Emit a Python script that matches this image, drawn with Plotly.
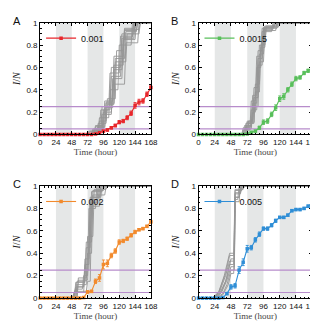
import plotly.graph_objects as go

# ---------------- data ----------------
time_h = [0, 6, 12, 18, 24, 30, 36, 42, 48, 54, 60, 66, 72, 78, 84, 90, 96, 102,
          108, 114, 120, 126, 132, 138, 144, 150, 156, 162, 168]

labels = ["0.001", "0.0015", "0.002", "0.005"]

red_A = [0, 0, 0, 0, 0, 0, 0, 0, 0, 0, 0, 0, 0, 0, 0.005, 0.015, 0.03, 0.04,
         0.06, 0.08, 0.11, 0.12, 0.15, 0.19, 0.26, 0.29, 0.30, 0.36, 0.42]
err_A = [0, 0, 0, 0, 0, 0, 0, 0, 0, 0, 0, 0, 0, 0, 0.003, 0.005, 0.008, 0.01,
         0.01, 0.012, 0.015, 0.015, 0.018, 0.02, 0.025, 0.025, 0.02, 0.02, 0.02]

green_B = [0, 0, 0, 0, 0, 0, 0, 0, 0, 0, 0, 0, 0.005, 0.02, 0.03, 0.06, 0.11,
           0.12, 0.18, 0.24, 0.32, 0.34, 0.40, 0.45, 0.50, 0.51, 0.55, 0.57, 0.60]
err_B = [0, 0, 0, 0, 0, 0, 0, 0, 0, 0, 0, 0, 0.003, 0.005, 0.008, 0.015, 0.02,
         0.02, 0.02, 0.025, 0.025, 0.025, 0.02, 0.02, 0.02, 0.015, 0.015, 0.015, 0.015]

orange_C = [0, 0, 0, 0, 0, 0, 0, 0, 0, 0, 0, 0.005, 0.055, 0.06, 0.15, 0.18,
            0.30, 0.31, 0.38, 0.42, 0.50, 0.51, 0.53, 0.56, 0.59, 0.61, 0.62, 0.64, 0.68]
err_C = [0, 0, 0, 0, 0, 0, 0, 0, 0, 0, 0, 0.003, 0.01, 0.01, 0.02, 0.03,
         0.04, 0.03, 0.02, 0.02, 0.02, 0.015, 0.015, 0.015, 0.015, 0.01, 0.01, 0.01, 0.01]

blue_D = [0, 0, 0, 0, 0, 0, 0.005, 0.04, 0.10, 0.11, 0.25, 0.32, 0.44, 0.45,
          0.52, 0.57, 0.62, 0.62, 0.65, 0.69, 0.72, 0.72, 0.74, 0.78, 0.79, 0.79,
          0.80, 0.82, 0.85]
err_D = [0, 0, 0, 0, 0, 0, 0.003, 0.01, 0.02, 0.02, 0.03, 0.03, 0.03, 0.02,
         0.02, 0.02, 0.015, 0.015, 0.015, 0.015, 0.01, 0.01, 0.01, 0.01, 0.01, 0.01,
         0.01, 0.01, 0.01]

# gray simulation curves: each is (knot times, knot values)
gray_A_t = [
    [0, 74, 76, 90, 92, 104, 106, 120, 122, 140, 142, 168],
    [0, 78, 80, 92, 94, 106, 108, 122, 124, 142, 144, 168],
    [0, 80, 82, 94, 96, 108, 110, 124, 126, 144, 146, 168],
    [0, 82, 84, 96, 98, 110, 112, 126, 128, 146, 148, 168],
    [0, 76, 78, 92, 94, 108, 110, 128, 130, 148, 150, 168],
    [0, 84, 86, 98, 100, 112, 114, 130, 132, 150, 152, 168],
    [0, 86, 88, 100, 102, 114, 116, 126, 128, 144, 146, 168],
    [0, 72, 74, 88, 90, 104, 106, 118, 120, 138, 140, 168],
    [0, 80, 82, 96, 98, 110, 112, 124, 126, 140, 142, 168],
    [0, 88, 90, 100, 102, 112, 114, 128, 130, 146, 148, 168],
    [0, 78, 80, 94, 96, 106, 108, 122, 124, 142, 144, 168],
    [0, 82, 84, 98, 100, 110, 112, 126, 128, 150, 152, 168],
]
gray_A_v = [
    [0, 0, 0.03, 0.03, 0.22, 0.22, 0.55, 0.55, 0.88, 0.88, 1, 1],
    [0, 0, 0.05, 0.05, 0.25, 0.25, 0.60, 0.60, 0.90, 0.90, 1, 1],
    [0, 0, 0.04, 0.04, 0.20, 0.20, 0.50, 0.50, 0.85, 0.85, 1, 1],
    [0, 0, 0.08, 0.08, 0.30, 0.30, 0.70, 0.70, 0.93, 0.93, 1, 1],
    [0, 0, 0.02, 0.02, 0.18, 0.18, 0.45, 0.45, 0.82, 0.82, 1, 1],
    [0, 0, 0.06, 0.06, 0.28, 0.28, 0.65, 0.65, 0.90, 0.90, 1, 1],
    [0, 0, 0.10, 0.10, 0.32, 0.32, 0.75, 0.75, 0.95, 0.95, 1, 1],
    [0, 0, 0.03, 0.03, 0.15, 0.15, 0.40, 0.40, 0.80, 0.80, 1, 1],
    [0, 0, 0.05, 0.05, 0.24, 0.24, 0.58, 0.58, 0.87, 0.87, 1, 1],
    [0, 0, 0.12, 0.12, 0.27, 0.27, 0.68, 0.68, 0.92, 0.92, 1, 1],
    [0, 0, 0.04, 0.04, 0.22, 0.22, 0.52, 0.52, 0.86, 0.86, 1, 1],
    [0, 0, 0.07, 0.07, 0.29, 0.29, 0.62, 0.62, 0.94, 0.94, 1, 1],
]

gray_B_t = [
    [0, 64, 66, 76, 78, 84, 86, 92, 94, 110, 112, 168],
    [0, 66, 68, 78, 80, 86, 88, 94, 96, 112, 114, 168],
    [0, 68, 70, 80, 82, 88, 90, 96, 98, 114, 116, 168],
    [0, 70, 72, 80, 82, 88, 90, 98, 100, 116, 118, 168],
    [0, 66, 68, 78, 80, 84, 86, 92, 94, 108, 110, 168],
    [0, 72, 74, 82, 84, 90, 92, 98, 100, 114, 116, 168],
    [0, 68, 70, 78, 80, 86, 88, 94, 96, 110, 112, 168],
    [0, 70, 72, 82, 84, 90, 92, 96, 98, 112, 114, 168],
    [0, 64, 66, 76, 78, 86, 88, 94, 96, 116, 118, 168],
    [0, 72, 74, 80, 82, 88, 90, 96, 98, 118, 120, 168],
]
gray_B_v = [
    [0, 0, 0.06, 0.06, 0.30, 0.30, 0.70, 0.70, 0.95, 0.95, 1, 1],
    [0, 0, 0.08, 0.08, 0.35, 0.35, 0.75, 0.75, 0.96, 0.96, 1, 1],
    [0, 0, 0.10, 0.10, 0.25, 0.25, 0.65, 0.65, 0.93, 0.93, 1, 1],
    [0, 0, 0.12, 0.12, 0.42, 0.42, 0.80, 0.80, 0.97, 0.97, 1, 1],
    [0, 0, 0.05, 0.05, 0.20, 0.20, 0.60, 0.60, 0.92, 0.92, 1, 1],
    [0, 0, 0.10, 0.10, 0.38, 0.38, 0.78, 0.78, 0.96, 0.96, 1, 1],
    [0, 0, 0.07, 0.07, 0.28, 0.28, 0.68, 0.68, 0.94, 0.94, 1, 1],
    [0, 0, 0.11, 0.11, 0.45, 0.45, 0.80, 0.80, 0.97, 0.97, 1, 1],
    [0, 0, 0.04, 0.04, 0.22, 0.22, 0.62, 0.62, 0.95, 0.95, 1, 1],
    [0, 0, 0.12, 0.12, 0.33, 0.33, 0.72, 0.72, 0.96, 0.96, 1, 1],
]

gray_C_t = [
    [0, 50, 54, 66, 68, 74, 76, 86, 88, 168],
    [0, 52, 56, 68, 70, 76, 78, 90, 92, 168],
    [0, 54, 56, 70, 72, 76, 78, 94, 96, 168],
    [0, 50, 54, 64, 66, 72, 74, 84, 86, 168],
    [0, 56, 58, 70, 72, 78, 80, 98, 100, 168],
    [0, 48, 52, 66, 68, 74, 76, 88, 90, 168],
    [0, 52, 54, 68, 70, 78, 80, 96, 98, 168],
    [0, 54, 56, 66, 68, 74, 76, 92, 94, 168],
    [0, 50, 52, 70, 72, 76, 78, 90, 92, 168],
    [0, 56, 58, 72, 74, 80, 82, 100, 102, 168],
]
gray_C_v = [
    [0, 0, 0.10, 0.10, 0.30, 0.30, 0.85, 0.85, 1, 1],
    [0, 0, 0.15, 0.15, 0.45, 0.45, 0.90, 0.90, 1, 1],
    [0, 0, 0.12, 0.12, 0.55, 0.55, 0.95, 0.95, 1, 1],
    [0, 0, 0.08, 0.08, 0.20, 0.20, 0.80, 0.80, 1, 1],
    [0, 0, 0.18, 0.18, 0.40, 0.40, 0.92, 0.92, 1, 1],
    [0, 0, 0.05, 0.05, 0.25, 0.25, 0.88, 0.88, 1, 1],
    [0, 0, 0.14, 0.14, 0.50, 0.50, 0.96, 0.96, 1, 1],
    [0, 0, 0.10, 0.10, 0.35, 0.35, 0.90, 0.90, 1, 1],
    [0, 0, 0.06, 0.06, 0.15, 0.15, 0.82, 0.82, 1, 1],
    [0, 0, 0.16, 0.16, 0.55, 0.55, 0.97, 0.97, 1, 1],
]

gray_D_t = [
    [0, 22, 32, 40, 46, 52, 54, 60, 62, 168],
    [0, 24, 34, 42, 48, 53, 54, 62, 64, 168],
    [0, 26, 36, 42, 48, 53, 54, 58, 60, 168],
    [0, 20, 30, 38, 46, 53, 54, 64, 66, 168],
    [0, 28, 36, 44, 48, 52, 54, 60, 62, 168],
    [0, 24, 32, 40, 46, 53, 54, 62, 64, 168],
    [0, 26, 34, 42, 48, 53, 54, 60, 62, 168],
    [0, 22, 30, 40, 46, 52, 54, 66, 68, 168],
]
gray_D_v = [
    [0, 0, 0.05, 0.15, 0.30, 0.30, 0.90, 0.90, 1, 1],
    [0, 0, 0.06, 0.18, 0.35, 0.35, 0.93, 0.93, 1, 1],
    [0, 0, 0.04, 0.12, 0.25, 0.25, 0.88, 0.88, 1, 1],
    [0, 0, 0.05, 0.20, 0.40, 0.40, 0.96, 0.96, 1, 1],
    [0, 0, 0.03, 0.12, 0.22, 0.22, 0.86, 0.86, 1, 1],
    [0, 0, 0.07, 0.20, 0.33, 0.33, 0.94, 0.94, 1, 1],
    [0, 0, 0.05, 0.16, 0.28, 0.28, 0.90, 0.90, 1, 1],
    [0, 0, 0.06, 0.22, 0.38, 0.38, 0.97, 0.97, 1, 1],
]

night_bands = [(24, 48), (72, 96), (120, 144)]
thresholds = [0.05, 0.25]
x_ticks = [0, 24, 48, 72, 96, 120, 144, 168]
y_ticks = [0, 0.2, 0.4, 0.6, 0.8, 1]
panel_letters = ["A", "B", "C", "D"]

# ---------------- style ----------------
W, H = 318, 323
colors = ["#e8262b", "#58bf5a", "#f28a2c", "#2f8ed6"]
gray_line = "#959595"
band_col = "#e5e7e7"
purple = "#b78ccb"

# plot area pixel boxes (left, top, right, bottom)
boxes = [(31, 11, 145, 126), (194, 11, 311, 126),
         (31, 179, 145, 294.3), (194, 179, 311, 294.3)]

series = [(red_A, err_A, gray_A_t, gray_A_v),
          (green_B, err_B, gray_B_t, gray_B_v),
          (orange_C, err_C, gray_C_t, gray_C_v),
          (blue_D, err_D, gray_D_t, gray_D_v)]

fig = go.Figure()
tick_font = dict(family="Liberation Sans, Arial", size=8, color="#111")
serif = "Liberation Serif, Times New Roman"

for i, (vals, errs, gts, gvs) in enumerate(series):
    n = i + 1
    xa = "x" if n == 1 else f"x{n}"
    ya = "y" if n == 1 else f"y{n}"
    lg = "legend" if n == 1 else f"legend{n}"
    for gt, gv in zip(gts, gvs):
        fig.add_trace(go.Scatter(x=gt, y=gv, mode="lines", xaxis=xa, yaxis=ya,
                                 line=dict(color=gray_line, width=0.9),
                                 showlegend=False, hoverinfo="skip"))
    for th in thresholds:
        fig.add_trace(go.Scatter(x=[x_ticks[0], x_ticks[-1]], y=[th, th], mode="lines",
                                 xaxis=xa, yaxis=ya,
                                 line=dict(color=purple, width=1.2),
                                 showlegend=False, hoverinfo="skip"))
    fig.add_trace(go.Scatter(
        x=time_h, y=vals, mode="lines+markers", name=labels[i], xaxis=xa, yaxis=ya,
        legend=lg, cliponaxis=False,
        line=dict(color=colors[i], width=1.1),
        marker=dict(symbol="square", size=3.5, color=colors[i]),
        error_y=dict(type="data", array=errs, color=colors[i], thickness=0.9, width=1.5),
    ))
    l, t, r, b = boxes[i]
    dom_x = [l / W, r / W]
    dom_y = [1 - b / H, 1 - t / H]
    axis_common = dict(showline=True, linecolor="#000", linewidth=1, mirror="allticks",
                       ticks="inside", ticklen=3, tickcolor="#000", tickwidth=0.8,
                       showgrid=False, zeroline=False, tickfont=tick_font, tickangle=0,
                       ticklabeloverflow="allow")
    fig.layout[f"xaxis{'' if n == 1 else n}"] = dict(
        domain=dom_x, anchor=ya, range=[0, 168], tickvals=x_ticks,
        ticktext=[str(v) for v in x_ticks],
        minor=dict(ticks="inside", ticklen=1.5, dtick=6, tick0=0, tickcolor="#000"),
        title=dict(text="Time (hour)", font=dict(family=serif, size=9, color="#444"),
                   standoff=2),
        **axis_common)
    fig.layout[f"yaxis{'' if n == 1 else n}"] = dict(
        domain=dom_y, anchor=xa, range=[0, 1], tickvals=y_ticks,
        ticktext=["0", "0.2", "0.4", "0.6", "0.8", "1"],
        minor=dict(ticks="inside", ticklen=1.5, dtick=0.05, tick0=0, tickcolor="#000"),
        title=dict(text="<i>I</i>/<i>N</i>", font=dict(family=serif, size=10, color="#222"),
                   standoff=3),
        **axis_common)
    for (a, bb) in night_bands:
        fig.add_shape(type="rect", x0=a, x1=bb, y0=0, y1=1, xref=xa, yref=ya,
                      fillcolor=band_col, line=dict(width=0), layer="below")
    fig.layout[lg] = dict(x=(l + 1) / W, y=1 - (t + 1) / H, xanchor="left", yanchor="top",
                          bgcolor="rgba(0,0,0,0)", borderwidth=0,
                          font=dict(family="Liberation Sans, Arial", size=9, color="#111"),
                          itemwidth=30, tracegroupgap=0)
    fig.add_annotation(text=panel_letters[i], xref="paper", yref="paper",
                       x=(l - 31 + 1) / W, y=1 - (t - 11 + 1) / H,
                       xanchor="left", yanchor="top", showarrow=False,
                       font=dict(family="Liberation Sans, Arial", size=11, color="#111"))

fig.update_layout(width=W, height=H, margin=dict(l=0, r=0, t=0, b=0),
                  paper_bgcolor="white", plot_bgcolor="white")
fig.write_html("out.html")
